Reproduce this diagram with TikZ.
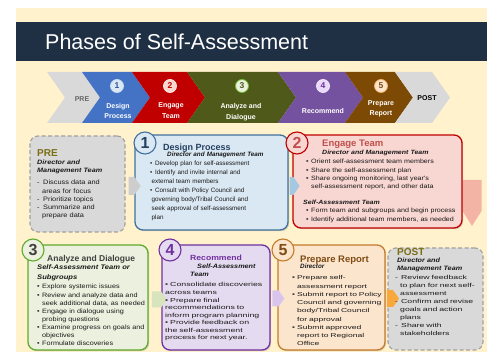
\documentclass[tikz,border=0pt]{standalone}
\usepackage{fontspec}
\setmainfont{Liberation Sans}
\setsansfont{Liberation Sans}
\newfontfamily\wideA[FakeStretch=1.15]{Liberation Sans}
\newfontfamily\wideB[FakeStretch=1.5]{Liberation Sans}
\usepackage{xcolor}
\usepackage{tikz}
\usetikzlibrary{shapes.symbols, shadows}
\definecolor{cream}{RGB}{255,242,204}
\definecolor{navy}{RGB}{31,48,68}
\definecolor{chgray}{RGB}{217,217,217}
\definecolor{chblue}{RGB}{68,114,196}
\definecolor{chred}{RGB}{192,0,0}
\definecolor{cholive}{RGB}{79,89,25}
\definecolor{chpurple}{RGB}{117,82,160}
\definecolor{chbrown}{RGB}{124,74,4}
\definecolor{dashgray}{RGB}{160,160,160}
\definecolor{bodytext}{RGB}{25,25,25}
\definecolor{pretitle}{RGB}{122,110,20}
\definecolor{lblue}{RGB}{218,232,243}
\definecolor{dblue}{RGB}{65,113,156}
\definecolor{lpink}{RGB}{248,214,210}
\definecolor{lgreen}{RGB}{235,241,222}
\definecolor{dgreen}{RGB}{96,170,46}
\definecolor{lpurple}{RGB}{229,219,240}
\definecolor{dpurple}{RGB}{112,48,160}
\definecolor{lpeach}{RGB}{252,229,205}
\definecolor{dorange}{RGB}{197,123,45}
\definecolor{tblue}{RGB}{36,64,97}
\definecolor{tred}{RGB}{192,80,77}
\definecolor{tgray}{RGB}{64,64,64}
\definecolor{tbrown}{RGB}{127,75,20}
\definecolor{agray}{RGB}{205,205,205}
\definecolor{ablue}{RGB}{165,200,225}
\definecolor{agreen}{RGB}{215,228,189}
\definecolor{apurple}{RGB}{216,196,236}
\definecolor{aorange}{RGB}{248,168,60}
\definecolor{apink}{RGB}{243,180,165}
\definecolor{cblued}{RGB}{200,220,240}
\definecolor{cbluet}{RGB}{47,85,151}
\definecolor{cpinkf}{RGB}{250,215,205}
\definecolor{cpinkd}{RGB}{252,232,226}
\definecolor{cgreend}{RGB}{112,190,50}
\definecolor{cpurpf}{RGB}{232,218,248}
\definecolor{cpurpd}{RGB}{242,232,252}
\definecolor{cpeachd}{RGB}{244,176,100}
\newcommand{\bl}{\makebox[5pt][l]{\textbullet}}
\newcommand{\dl}{\makebox[6pt][l]{-}}
\newcommand{\cn}{\hspace*{5pt}}
\tikzset{
  panel/.style={rectangle, rounded corners=8pt, line width=1.3pt, inner sep=0pt},
  solidpanel/.style={panel, drop shadow={shadow xshift=1.2pt, shadow yshift=-1.2pt, opacity=0.3}},
  dashpanel/.style={panel, draw=dashgray, fill=chgray, dash pattern=on 4pt off 2.5pt, line width=1.1pt},
  num/.style={circle, line width=1.1pt, minimum size=22pt, inner sep=0pt, font=\fontsize{16}{16}\selectfont\bfseries},
  cnum/.style={circle, line width=0.8pt, minimum size=13pt, inner sep=0pt, font=\fontsize{8.5}{8.5}\selectfont\bfseries},
  clbl/.style={text=white, font=\fontsize{7}{10.5}\selectfont\bfseries, align=center, inner sep=0pt},
  ptitle/.style={anchor=base west, inner sep=0pt, font=\fontsize{#1}{#1}\selectfont\bfseries},
  psub/.style n args={3}{anchor=base west, inner sep=0pt, text width=140pt, align=left, text=bodytext,
    font=#1\fontsize{#2}{#3}\selectfont\bfseries\itshape},
  plist/.style n args={3}{anchor=base west, inner sep=0pt, text width=170pt, align=left, text=bodytext,
    font=#1\fontsize{#2}{#3}\selectfont},
  flow/.style={signal, signal to=east, signal pointer angle=110, inner sep=0pt}
}
\begin{document}
\begin{tikzpicture}[x=1pt, y=-1pt]
  \useasboundingbox (0,0) rectangle (487,352);
  \fill[cream] (16,8) rectangle (487,352);
  \node[fill=navy, minimum width=471pt, minimum height=39pt, inner sep=0pt, anchor=north west] (bar) at (16,22) {};
  \node[anchor=base west, inner sep=0pt, text=white, font=\fontsize{21.5}{24}\selectfont] (title) at (45,49.5) {Phases of Self-Assessment};

  % chevron bar
  \foreach \xa/\xb/\col in {47/82/chgray, 82/132/chblue, 132/187/chred, 187/278/cholive, 278/345/chpurple, 345/395/chbrown, 395/432/chgray}
    \fill[\col] (\xa,72) -- (\xb,72) -- (\xb+18,97.5) -- (\xb,123) -- (\xa,123) -- (\xa+18,97.5) -- cycle;
  \foreach \n/\x/\fc/\dc/\tc in {1/117/lblue/cblued/cbluet, 2/170/cpinkf/cpinkd/chred, 3/242/lgreen/cgreend/cholive, 4/323/cpurpf/cpurpd/dpurple, 5/381/lpeach/cpeachd/tbrown}
    \node[cnum, fill=\fc, draw=\dc, text=\tc] (stage\n) at (\x,86) {\n};
  \node[clbl, text=tgray!80] (pre) at (82,99.5) {PRE};
  \node[clbl] (lbl1) at (118,111) {Design\\Process};
  \node[clbl] (lbl2) at (171,110.5) {Engage\\Team};
  \node[clbl] (lbl3) at (241,112) {Analyze and\\Dialogue};
  \node[clbl] (lbl4) at (323,111) {Recommend};
  \node[clbl] (lbl5) at (381,109) {Prepare\\Report};
  \node[clbl, text=black] (post) at (427,98) {POST};

  % phase panels
  \node[dashpanel, minimum width=95pt, minimum height=96pt] (prebox) at (77.5,184) {};
  \node[solidpanel, draw=dblue, fill=lblue, minimum width=153pt, minimum height=95pt] (design) at (211.5,182.5) {};
  \node[signal, signal to=south, signal pointer angle=65, fill=apink, inner sep=0pt, minimum width=19pt, minimum height=31pt] (down) at (472,195.5) {};
  \node[solidpanel, draw=chred, fill=lpink, minimum width=169pt, minimum height=93pt] (engage) at (377.5,181.5) {};
  \node[solidpanel, draw=dgreen, fill=lgreen, minimum width=120pt, minimum height=105pt] (analyze) at (88,297.5) {};
  \node[solidpanel, draw=dpurple, fill=lpurple, minimum width=108pt, minimum height=105pt] (recommend) at (216,297.5) {};
  \node[solidpanel, draw=dorange, fill=lpeach, minimum width=107pt, minimum height=105pt] (prepare) at (331.5,297.5) {};
  \node[dashpanel, minimum width=95pt, minimum height=102pt] (postbox) at (435.5,299) {};

  % flow arrows
  \node[flow, fill=agray, minimum width=12pt, minimum height=18pt] (a1) at (131.5,186) {};
  \node[flow, fill=ablue, minimum width=10pt, minimum height=18pt] (a2) at (291.5,186) {};
  \node[flow, fill=agreen, minimum width=15pt, minimum height=16pt] (a3) at (156.5,299.5) {};
  \node[flow, fill=apurple, minimum width=12pt, minimum height=16pt] (a4) at (275.5,298.5) {};
  \node[flow, fill=aorange, minimum width=12pt, minimum height=17pt] (a5) at (390,298.5) {};

  % PRE
  \node[ptitle=10, text=pretitle] (pret) at (37,157) {PRE};
  \node[psub={\wideA}{6.3}{8}] (pres) at (37,165) {Director and\\Management Team};
  \node[plist={\wideA}{6.4}{8.1}] (prel) at (37,185) {\dl Discuss data and\\\cn areas for focus\\\dl Prioritize topics\\\dl Summarize and\\\cn prepare data};

  % 1 design process
  \node[num, fill=lblue, draw=dblue, text=tblue] (n1) at (145,143) {1};
  \node[ptitle=9, text=tblue] (t1) at (163,150.5) {Design Process};
  \node[psub={}{6.3}{8}] (s1) at (167,157) {Director and Management Team};
  \node[plist={}{6.3}{9}] (l1) at (150,166) {\bl Develop plan for self-assessment\\\bl Identify and invite internal and\\\hspace*{1.5pt}external team members\\\bl Consult with Policy Council and\\\hspace*{1.5pt}governing body/Tribal Council and\\\hspace*{1.5pt}seek approval of self-assessment\\\hspace*{1.5pt}plan};

  % 2 engage team
  \node[num, fill=lpink, draw=chred, text=tred] (n2) at (297,143) {2};
  \node[ptitle=9.5, text=tred] (t2) at (322,146.5) {Engage Team};
  \node[psub={\wideA}{6.1}{8}] (s2) at (322,155) {Director and Management Team};
  \node[plist={\wideA}{6.2}{8.3}] (l2) at (306,164) {\bl Orient self-assessment team members\\\bl Share the self-assessment plan\\\bl Share ongoing monitoring, last year's\\\cn self-assessment report, and other data};
  \node[psub={\wideA}{6.1}{8}] (s2b) at (303,205) {Self-Assessment Team};
  \node[plist={\wideA}{6.2}{8.3}] (l2b) at (306,213) {\bl Form team and subgroups and begin process\\\bl Identify additional team members, as needed};

  % 3 analyze and dialogue
  \node[num, fill=lgreen, draw=dgreen, text=tgray] (n3) at (33,250) {3};
  \node[ptitle=8.5, text=tgray] (t3) at (47,262) {Analyze and Dialogue};
  \node[psub={\wideA}{6.6}{9.5}] (s3) at (37,270) {Self-Assessment Team or\\Subgroups};
  \node[plist={\wideA}{6.3}{8.1}] (l3) at (37,289) {\bl Explore systemic issues\\\bl Review and analyze data and\\\cn seek additional data, as needed\\\bl Engage in dialogue using\\\cn probing questions\\\bl Examine progress on goals and\\\cn objectives\\\bl Formulate discoveries};

  % 4 recommend
  \node[num, fill=lpurple, draw=dpurple, text=dpurple] (n4) at (170,250) {4};
  \node[ptitle=7.5, text=dpurple] (t4) at (190,261) {\wideA Recommend};
  \node[psub={\wideA}{6.3}{8}] (s4) at (190,269) {\hspace*{7pt}Self-Assessment\\Team};
  \node[plist={\wideB}{5.85}{7.57}] (l4) at (165,287) {\bl Consolidate discoveries\\across teams\\\bl Prepare final\\recommendations to\\inform program planning\\\bl Provide feedback on\\the self-assessment\\process for next year.};

  % 5 prepare report
  \node[num, fill=lpeach, draw=dorange, text=tbrown] (n5) at (283,250) {5};
  \node[ptitle=9.5, text=tbrown] (t5) at (300,262.5) {Prepare Report};
  \node[psub={}{6.3}{8}] (s5) at (300,269) {Director};
  \node[plist={\wideB}{5.7}{8.25}] (l5) at (292,280) {\bl Prepare self-\\\cn assessment report\\\bl Submit report to Policy\\\cn Council and governing\\\cn body/Tribal Council\\\cn for approval\\\bl Submit approved\\\cn report to Regional\\\cn Office};

  % POST
  \node[ptitle=10, text=pretitle] (postt) at (397,256) {POST};
  \node[psub={\wideA}{6.3}{8}] (posts) at (397,263) {Director and\\Management Team};
  \node[plist={\wideB}{5.8}{7.86}] (postl) at (395,280) {\dl Review feedback\\\cn to plan for next self-\\\cn assessment\\\dl Confirm and revise\\\cn goals and action\\\cn plans\\\dl Share with\\\cn stakeholders};
\end{tikzpicture}
\end{document}
